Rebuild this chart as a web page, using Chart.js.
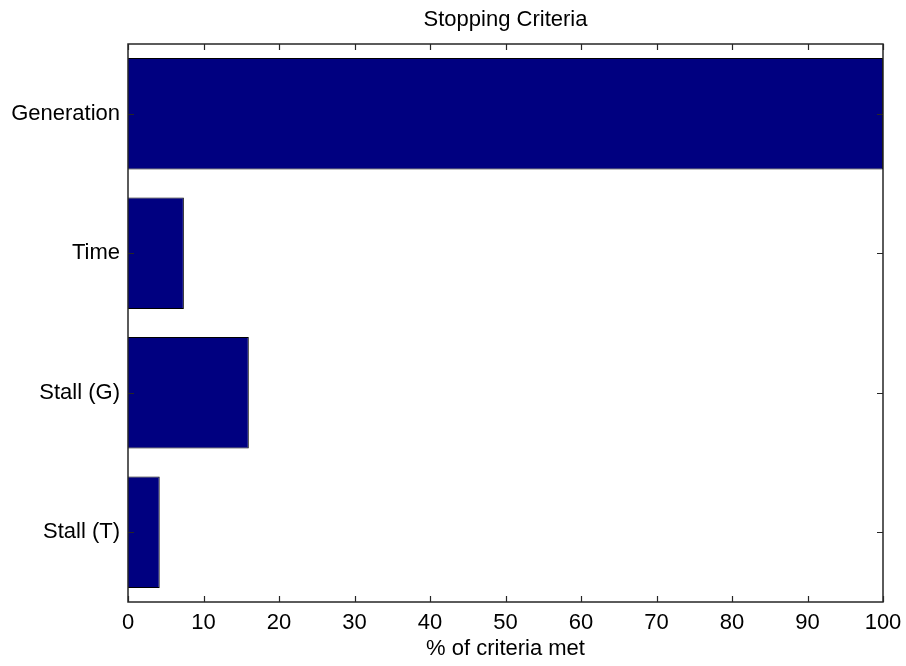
<!DOCTYPE html>
<html>
<head>
<meta charset="utf-8">
<script src="https://cdn.jsdelivr.net/npm/chart.js@4"></script>
<style>
  body { margin: 0; background: #fff; }
</style>
</head>
<body>
<canvas id="criteria" width="906" height="666"></canvas>
<script>
const categories = ["Generation", "Time", "Stall (G)", "Stall (T)"];
const percentMet = [100, 7.4, 16.0, 4.2];
const xTicks = [0, 10, 20, 30, 40, 50, 60, 70, 80, 90, 100];

const FONT = "'Liberation Sans', Arial, sans-serif";
const SIZE = 22;

// MATLAB style box with inward tick marks
const boxPlugin = {
  id: "matlabBox",
  afterDatasetsDraw(chart) {
    const { ctx, chartArea: a, scales } = chart;
    const len = 6;
    ctx.save();
    ctx.strokeStyle = "#262626";
    ctx.lineWidth = 1.5;
    ctx.strokeRect(a.left, a.top, a.right - a.left, a.bottom - a.top);
    ctx.lineWidth = 1.2;
    ctx.beginPath();
    for (const v of xTicks) {
      const x = Math.round(scales.x.getPixelForValue(v)) + 0.5;
      ctx.moveTo(x, a.bottom);
      ctx.lineTo(x, a.bottom - len);
      ctx.moveTo(x, a.top);
      ctx.lineTo(x, a.top + len);
    }
    categories.forEach((c, i) => {
      const y = Math.round(scales.y.getPixelForValue(i)) + 0.5;
      ctx.moveTo(a.left, y);
      ctx.lineTo(a.left + len, y);
      ctx.moveTo(a.right, y);
      ctx.lineTo(a.right - len, y);
    });
    ctx.stroke();
    ctx.restore();
  },
};

new Chart(document.getElementById("criteria").getContext("2d"), {
  type: "bar",
  data: {
    labels: categories,
    datasets: [
      {
        data: percentMet,
        backgroundColor: "#000080",
        borderColor: "#000000",
        borderWidth: 1,
        barPercentage: 0.8,
        categoryPercentage: 1,
      },
    ],
  },
  options: {
    indexAxis: "y",
    responsive: false,
    animation: false,
    devicePixelRatio: 1,
    layout: { padding: { left: 0, right: 23, top: 0, bottom: 0 } },
    scales: {
      x: {
        min: 0,
        max: 100,
        afterFit: (s) => {
          s.height = 64;
          s.paddingLeft = 0;
          s.paddingRight = 0;
        },
        afterBuildTicks: (s) => { s.ticks = xTicks.map((v) => ({ value: v })); },
        grid: { display: false, drawTicks: false },
        border: { display: false },
        ticks: { color: "#000", padding: 8, font: { family: FONT, size: SIZE, lineHeight: 1.2 }, maxRotation: 0 },
        title: {
          display: true,
          text: "% of criteria met",
          color: "#000",
          font: { family: FONT, size: SIZE, lineHeight: 1.2 },
          padding: { top: 0, bottom: 4 },
        },
      },
      y: {
        afterFit: (s) => {
          s.width = 128;
          s.paddingTop = 0;
          s.paddingBottom = 0;
        },
        grid: { display: false, drawTicks: false },
        border: { display: false },
        ticks: { color: "#000", padding: 8, font: { family: FONT, size: SIZE } },
      },
    },
    plugins: {
      legend: { display: false },
      tooltip: { enabled: false },
      title: {
        display: true,
        fullSize: false,
        text: "Stopping Criteria",
        color: "#000",
        font: { family: FONT, size: SIZE, weight: "normal", lineHeight: 1.2 },
        padding: { top: 6.8, bottom: 10.8 },
      },
    },
  },
  plugins: [boxPlugin],
});
</script>
</body>
</html>
